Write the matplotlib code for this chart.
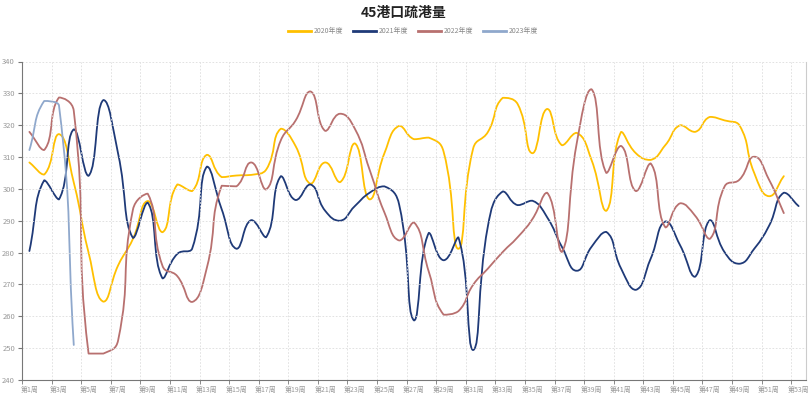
import numpy as np
import matplotlib.pyplot as plt
from matplotlib.path import Path
from matplotlib.patches import PathPatch
from matplotlib.lines import Line2D

plt.rcParams['font.family'] = ['Noto Sans CJK SC', 'DejaVu Sans']

# 数据（周度）
weeks = list(range(1, 54))
week_labels = [f"第{w}周" for w in weeks]
names = ["2020年度", "2021年度", "2022年度", "2023年度"]

v2020 = [308.3, 304.5, 317.2, 302.0, 280.0, 264.6, 276.0, 284.3, 296.2, 286.4,
         301.4, 299.3, 310.7, 303.7, 304.2, 304.4, 306.0, 318.9, 313.4, 301.6,
         308.3, 302.1, 314.3, 296.7, 311.2, 319.8, 315.6, 316.1, 311.7, 281.2,
         312.7, 317.9, 328.6, 326.7, 311.2, 325.1, 313.7, 317.6, 309.1, 293.1,
         317.9, 311.2, 309.1, 313.8, 320.0, 317.9, 322.6, 321.5, 320.0, 305.0,
         297.7, 304.0]
v2021 = [280.5, 302.7, 296.7, 318.7, 304.1, 327.9, 311.0, 284.6, 295.7, 271.9,
         279.6, 281.2, 307.0, 293.6, 281.2, 290.2, 284.8, 304.0, 296.5, 301.4,
         293.1, 290.0, 294.6, 298.8, 300.8, 295.0, 258.7, 286.2, 277.6, 284.8,
         249.4, 288.4, 299.2, 294.9, 296.3, 291.1, 281.8, 274.3, 281.8, 286.5,
         275.0, 268.3, 278.1, 289.8, 282.2, 272.4, 290.2, 280.1, 276.5, 281.2,
         288.4, 298.8, 294.6]
v2022 = [317.9, 312.2, 328.7, 324.5, 248.3, 248.3, 252.5, 293.5, 298.5, 275.8,
         272.6, 264.5, 275.3, 301.0, 300.8, 308.3, 299.8, 315.3, 321.5, 330.6,
         318.2, 323.6, 318.9, 306.0, 292.6, 283.8, 289.5, 274.0, 260.5, 261.6,
         269.9, 275.0, 280.2, 284.8, 290.5, 298.8, 280.2, 314.3, 331.3, 305.0,
         313.5, 299.3, 308.0, 287.9, 295.5, 291.6, 284.3, 300.8, 302.9, 310.1,
         302.9, 292.4]
v2023 = [312.2, 327.6, 326.2, 251.0]

colors = ["#FFC000", "#1F3A78", "#B8706F", "#8FA8CC"]


def smooth_path(xs, ys, sx=14.8, sy=3.18, smooth=0.5):
    # 类似 echarts 的平滑曲线
    xs = np.asarray(xs, float)
    ys = np.asarray(ys, float)
    n = len(xs)
    cin, cout = [], []
    for i in range(n):
        px, py = (xs[i-1], ys[i-1]) if i > 0 else (xs[i], ys[i])
        nx, ny = (xs[i+1], ys[i+1]) if i < n - 1 else (xs[i], ys[i])
        vx, vy = nx - px, ny - py
        d0 = np.hypot((xs[i] - px) * sx, (ys[i] - py) * sy)
        d1 = np.hypot((nx - xs[i]) * sx, (ny - ys[i]) * sy)
        r = d1 / (d0 + d1) if d0 + d1 > 0 else 0.5
        ix, iy = xs[i] - vx * smooth * (1 - r), ys[i] - vy * smooth * (1 - r)
        ox, oy = xs[i] + vx * smooth * r, ys[i] + vy * smooth * r
        ix = min(max(ix, min(px, xs[i])), max(px, xs[i]))
        iy = min(max(iy, min(py, ys[i])), max(py, ys[i]))
        ox = min(max(ox, min(nx, xs[i])), max(nx, xs[i]))
        oy = min(max(oy, min(ny, ys[i])), max(ny, ys[i]))
        cin.append((ix, iy))
        cout.append((ox, oy))
    verts = [(xs[0], ys[0])]
    codes = [Path.MOVETO]
    for i in range(n - 1):
        verts += [cout[i], cin[i + 1], (xs[i + 1], ys[i + 1])]
        codes += [Path.CURVE4] * 3
    return Path(verts, codes)


fig = plt.figure(figsize=(8.1, 3.95), dpi=100)
ax = fig.add_axes([22 / 810, 1 - 380 / 395, 784 / 810, 318.5 / 395])

for vals, c in zip([v2020, v2021, v2022, v2023], colors):
    p = smooth_path(weeks[:len(vals)], vals)
    ax.add_patch(PathPatch(p, facecolor='none', edgecolor=c, lw=1.3,
                           capstyle='round', joinstyle='round'))

ax.set_xlim(0.5, 53.5)
ax.set_ylim(240, 340)
ax.set_yticks(np.arange(240, 341, 10))
ax.set_xticks(weeks[::2])
ax.set_xticklabels(week_labels[::2])
ax.set_xticks(np.arange(0.5, 53.6, 2), minor=True)
ax.tick_params(axis='x', which='major', length=0, labelsize=5, colors='#999', pad=4)
ax.tick_params(axis='x', which='minor', length=3, color='#777')
ax.tick_params(axis='y', length=3, color='#777', labelsize=5.5, labelcolor='#999', pad=2)

ax.grid(True, axis='y', color='#ddd', lw=0.6, ls=(0, (2, 2)))
ax.grid(True, axis='x', which='minor', color='#ddd', lw=0.6, ls=(0, (2, 2)))

for s in ['top']:
    ax.spines[s].set_visible(False)
ax.spines['left'].set_color('#777')
ax.spines['bottom'].set_color('#777')
ax.spines['right'].set_color('#ccc')
for s in ax.spines.values():
    s.set_linewidth(0.8)

fig.text(404 / 810, 1 - 13 / 395, "45港口疏港量", ha='center', va='center',
         fontsize=10, fontweight='bold', color='#222')

handles = [Line2D([], [], color=c, lw=2) for c in colors]
fig.legend(handles, names, loc='center', bbox_to_anchor=(413 / 810, 1 - 31 / 395),
           ncol=4, frameon=False, fontsize=5, labelcolor='#888',
           handlelength=3.3, handletextpad=0.4, columnspacing=1.4)

fig.savefig("out.png", dpi=100)
